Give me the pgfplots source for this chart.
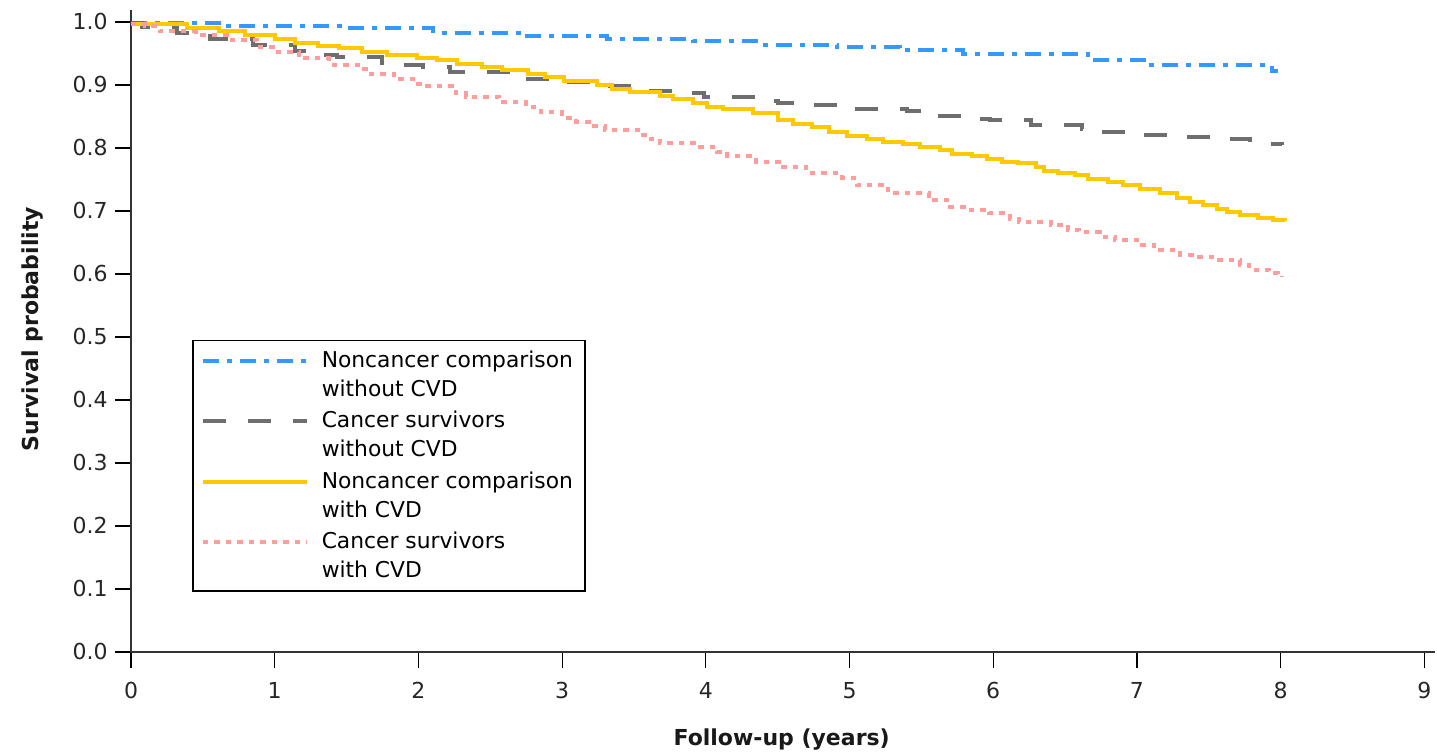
\documentclass[border=0pt]{standalone}
\usepackage{fontspec}
\setmainfont{DejaVu Sans}
\usepackage{pgfplots}
\pgfplotsset{compat=1.18}

\definecolor{cblue}{HTML}{3399FF}
\definecolor{cgray}{HTML}{6E6E6E}
\definecolor{cyellow}{HTML}{FFC800}
\definecolor{cpink}{HTML}{FF9C9C}

\begin{document}
\begin{tikzpicture}
\begin{axis}[
  at={(0,0)}, anchor=origin,
  scale only axis, width=652pt, height=321pt,
  xmin=0, xmax=9.074, ymin=0, ymax=1.019,
  axis x line=bottom, axis y line=left,
  axis line style={-, line width=0.8pt, black!80},
  xtick={0,1,2,3,4,5,6,7,8,9},
  ytick={0,0.1,0.2,0.3,0.4,0.5,0.6,0.7,0.8,0.9,1.0},
  tick align=outside, major tick length=8pt,
  tick style={black, line width=0.6pt},
  /pgf/number format/assume math mode=true,
  yticklabel style={/pgf/number format/fixed, /pgf/number format/fixed zerofill,
    /pgf/number format/precision=1},
  yticklabel style={anchor=east, inner sep=0pt, xshift=-3.5pt},
  xticklabel style={anchor=north, inner sep=0pt, yshift=-7pt},
  ticklabel style={font=\fontsize{11}{13}\selectfont, text=black!85},
  xlabel={Follow-up (years)},
  ylabel={Survival probability},
  label style={font=\fontsize{11}{13}\selectfont\bfseries, text=black!90},
  xlabel style={at={(axis description cs:0.499,-0.137)}, anchor=center},
  ylabel style={at={(axis description cs:-0.0759,0.503)}, anchor=center},
  legend cell align=left,
  legend style={at={(axis description cs:0.0468,0.486)}, anchor=north west,
    draw=black, line width=0.75pt, font=\fontsize{10.9}{14.5}\selectfont,
    nodes={align=left}, inner xsep=4pt, inner ysep=3pt, row sep=2pt,
    column sep=4.5pt},
  legend image code/.code={\draw[#1] (0pt,7.25pt) -- (52pt,7.25pt);
    \path[draw=none] (0pt,-7.25pt) -- (52pt,-7.25pt);},
]
\addplot[const plot, cblue, line width=2pt, dash pattern=on 8pt off 4pt on 2.5pt off 4pt] coordinates {
(0,0.998) (0.64,0.993) (1.5,0.990) (2.1,0.986) (2.12,0.983) (2.73,0.977)
(3.31,0.973) (3.91,0.970) (4.38,0.964) (4.91,0.960) (5.35,0.955) (5.79,0.949)
(6.66,0.939) (7.10,0.932) (7.94,0.922) (7.98,0.922)};
\addplot[const plot, cgray, line width=2pt, dash pattern=on 11.5pt off 11pt] coordinates {
(0,0.998) (0.08,0.992) (0.32,0.982) (0.55,0.973) (0.85,0.963) (1.14,0.954)
(1.25,0.948) (1.43,0.944) (1.75,0.935) (1.84,0.932) (2.03,0.928) (2.22,0.920)
(2.65,0.916) (2.74,0.910) (2.93,0.904) (3.26,0.898) (3.54,0.891) (3.86,0.888)
(3.99,0.881) (4.38,0.875) (4.50,0.871) (4.69,0.868) (5.00,0.862) (5.40,0.858)
(5.53,0.851) (5.82,0.846) (5.98,0.844) (6.26,0.836) (6.62,0.830) (6.74,0.825)
(7.04,0.820) (7.30,0.817) (7.61,0.814) (7.79,0.807) (8.01,0.806)};
\addplot[const plot, cyellow, line width=2pt] coordinates {
(0,0.997) (0.39,0.990) (0.61,0.985) (0.79,0.979) (1.00,0.973) (1.14,0.967)
(1.30,0.962) (1.45,0.958) (1.61,0.953) (1.78,0.948) (1.99,0.943) (2.13,0.939)
(2.27,0.934) (2.44,0.929) (2.58,0.924) (2.76,0.918) (2.88,0.912) (3.01,0.907)
(3.24,0.900) (3.35,0.894) (3.47,0.889) (3.68,0.883) (3.77,0.878) (3.91,0.871)
(4.01,0.865) (4.12,0.862) (4.33,0.855) (4.50,0.845) (4.61,0.838) (4.74,0.833)
(4.86,0.826) (4.98,0.819) (5.12,0.815) (5.23,0.810) (5.37,0.806) (5.49,0.801)
(5.63,0.796) (5.71,0.791) (5.85,0.787) (5.96,0.783) (6.06,0.778) (6.17,0.776)
(6.30,0.770) (6.35,0.764) (6.45,0.761) (6.57,0.757) (6.66,0.751) (6.80,0.746)
(6.90,0.741) (7.02,0.735) (7.16,0.728) (7.28,0.720) (7.37,0.714) (7.46,0.709)
(7.56,0.703) (7.63,0.698) (7.72,0.694) (7.84,0.689) (7.95,0.686) (8.03,0.684)};
\addplot[const plot, cpink, line width=2pt, dash pattern=on 2.75pt off 3pt] coordinates {
(0,0.997) (0.10,0.993) (0.20,0.985) (0.45,0.979) (0.68,0.971) (0.88,0.961)
(1.02,0.953) (1.17,0.942) (1.38,0.932) (1.58,0.926) (1.65,0.918) (1.83,0.910)
(1.98,0.902) (2.06,0.898) (2.26,0.887) (2.33,0.881) (2.56,0.873) (2.75,0.865)
(2.85,0.857) (3.00,0.848) (3.10,0.842) (3.20,0.835) (3.30,0.829) (3.53,0.821)
(3.60,0.815) (3.68,0.808) (3.92,0.802) (4.08,0.794) (4.15,0.787) (4.35,0.778)
(4.52,0.770) (4.70,0.760) (4.95,0.752) (5.05,0.741) (5.27,0.728) (5.55,0.717)
(5.70,0.707) (5.81,0.702) (5.97,0.696) (6.12,0.688) (6.18,0.683) (6.40,0.678)
(6.52,0.670) (6.60,0.666) (6.74,0.659) (6.85,0.654) (7.02,0.646) (7.12,0.638)
(7.30,0.630) (7.38,0.627) (7.54,0.622) (7.72,0.614) (7.78,0.607) (7.92,0.601)
(7.98,0.598) (8.01,0.596)};
\legend{{Noncancer comparison\\without CVD}, {Cancer survivors\\without CVD},
  {Noncancer comparison\\with CVD}, {Cancer survivors\\with CVD}}
\end{axis}
\pgfresetboundingbox
\useasboundingbox (-65.5pt,-50.5pt) rectangle (653pt,326pt);
\end{tikzpicture}
\end{document}
